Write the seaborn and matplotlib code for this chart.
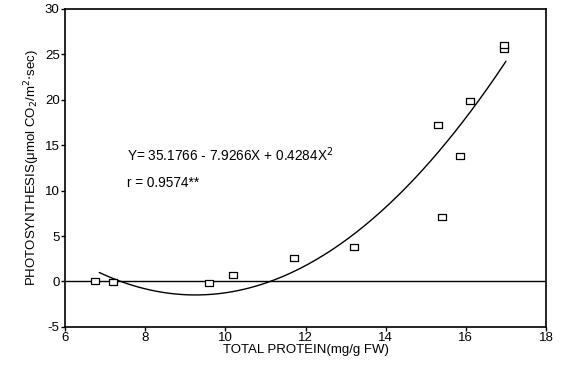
import numpy as np
import pandas as pd
import seaborn as sns
import matplotlib
matplotlib.use("Agg")
import matplotlib.pyplot as plt

# data
protein = [6.75, 7.2, 9.6, 10.2, 11.7, 13.2, 15.4, 15.3, 15.85, 16.1, 16.95, 16.95]
photo = [0.0, -0.1, -0.2, 0.7, 2.6, 3.8, 7.1, 17.2, 13.8, 19.9, 25.6, 26.0]

# fitted quadratic printed on the chart
b0, b1, b2 = 35.1766, -7.9266, 0.4284
fit_range = (6.85, 17.0)

df = pd.DataFrame({"protein": protein, "photo": photo})
xs = np.linspace(fit_range[0], fit_range[1], 200)
curve = pd.DataFrame({"x": xs, "y": b0 + b1 * xs + b2 * xs ** 2})

sns.set_theme(style="ticks")
plt.rcParams["font.family"] = ["Liberation Sans", "DejaVu Sans"]
plt.rcParams["text.color"] = "black"
plt.rcParams["axes.labelcolor"] = "black"
plt.rcParams["axes.unicode_minus"] = False

fig = plt.figure(figsize=(5.67, 3.71), dpi=100)
ax = fig.add_axes([0.115, 0.119, 0.848, 0.857])

# wide open box marker like the original
box = [(-1.3, -0.85), (1.3, -0.85), (1.3, 0.85), (-1.3, 0.85), (-1.3, -0.85)]

ax.axhline(0, color="black", lw=1.0)
sns.lineplot(data=curve, x="x", y="y", color="black", lw=1.0, ax=ax)
sns.scatterplot(data=df, x="protein", y="photo", marker=box, s=34,
                facecolor="white", edgecolor="black", linewidth=0.9, ax=ax, zorder=3)

ax.set_xlim(6, 18)
ax.set_ylim(-5, 30)
ax.set_xticks([6, 8, 10, 12, 14, 16, 18])
ax.set_yticks([-5, 0, 5, 10, 15, 20, 25, 30])
ax.tick_params(direction="out", length=3, width=1, labelsize=9.5, colors="black", pad=1)
for sp in ax.spines.values():
    sp.set_visible(True)
    sp.set_color("black")
    sp.set_linewidth(1.2)

ax.set_xlabel("TOTAL PROTEIN(mg/g FW)", fontsize=9.5, labelpad=0)
ax.set_ylabel(r"PHOTOSYNTHESIS($\mathregular{\mu}$mol CO$_2$/m$^2$$\cdot$sec)", fontsize=9.5, labelpad=2)

ax.text(7.55, 13.3, "Y= 35.1766 - 7.9266X + 0.4284X$^2$", fontsize=9.8)
ax.text(7.55, 10.4, "r = 0.9574**", fontsize=9.8)

fig.savefig("out.png", dpi=100)
